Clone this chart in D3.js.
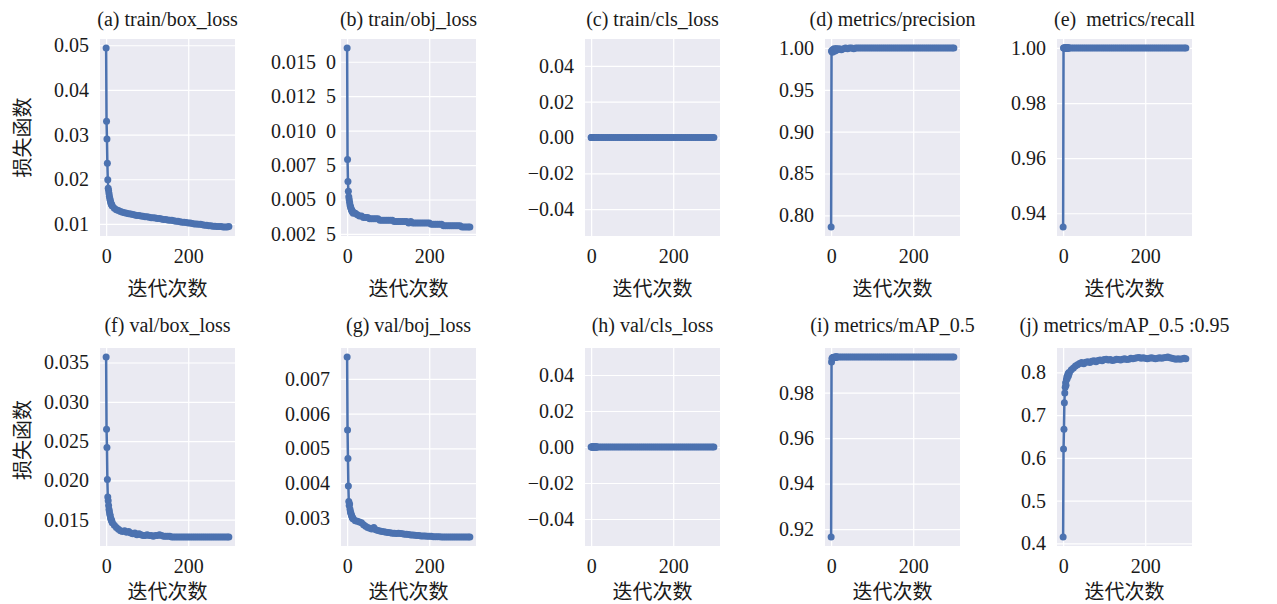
<!DOCTYPE html>
<html>
<head>
<meta charset="utf-8">
<script src="https://cdn.jsdelivr.net/npm/d3@7"></script>
<style>
  body { margin: 0; background: #fff; }
  text { font-family: "Liberation Serif", "Noto Sans CJK SC", serif; fill: #1a1a1a; }
</style>
</head>
<body>
<svg id="drawing_region"></svg>
<script>
const epochs = [0, 1, 2, 3, 4, 5, 6, 7, 8, 9, 10, 11, 12, 13, 14, 15,
    20, 25, 30, 35, 40, 45, 50, 55, 60, 65, 70, 75, 80, 85, 90, 95,
    100, 105, 110, 115, 120, 125, 130, 135, 140, 145, 150, 155, 160, 165, 170, 175,
    180, 185, 190, 195, 200, 205, 210, 215, 220, 225, 230, 235, 240, 245, 250, 255,
    260, 265, 270, 275, 280, 285, 290, 295, 299];

const titles = ["(a) train/box_loss", "(b) train/obj_loss", "(c) train/cls_loss",
    "(d) metrics/precision", "(e)  metrics/recall", "(f) val/box_loss",
    "(g) val/boj_loss", "(h) val/cls_loss", "(i) metrics/mAP_0.5",
    "(j) metrics/mAP_0.5 :0.95"];

const trainBoxLoss = [0.0494, 0.0330, 0.0290, 0.0236, 0.0199, 0.0180, 0.0175, 0.0168, 0.0162, 0.0157, 0.0153, 0.0149, 0.0146, 0.0144, 0.0142, 0.0140,
    0.0135, 0.0132, 0.0130, 0.0128, 0.0126, 0.0125, 0.0124, 0.0123, 0.0122, 0.0121, 0.0120, 0.0119, 0.0119, 0.0118, 0.0117, 0.0116,
    0.0116, 0.0115, 0.0114, 0.0114, 0.0113, 0.0112, 0.0112, 0.0111, 0.0110, 0.0110, 0.0109, 0.0108, 0.0108, 0.0107, 0.0106, 0.0106,
    0.0105, 0.0104, 0.0104, 0.0103, 0.0102, 0.0102, 0.0101, 0.0100, 0.0100, 0.0099, 0.0099, 0.0098, 0.0097, 0.0097, 0.0096, 0.0096,
    0.0095, 0.0095, 0.0094, 0.0094, 0.0094, 0.0093, 0.0093, 0.0093, 0.0094];

const trainObjLoss = [0.0160, 0.0079, 0.0063, 0.0056, 0.0052, 0.0050, 0.0048, 0.0046, 0.0045, 0.0044, 0.0043, 0.0042, 0.0042, 0.0041, 0.0041, 0.0040,
    0.0040, 0.0039, 0.0038, 0.0038, 0.0037, 0.0037, 0.0037, 0.0036, 0.0036, 0.0036, 0.0036, 0.0036, 0.0035, 0.0035, 0.0035, 0.0035,
    0.0035, 0.0035, 0.0035, 0.0034, 0.0034, 0.0034, 0.0034, 0.0034, 0.0034, 0.0034, 0.0033, 0.0034, 0.0033, 0.0033, 0.0033, 0.0033,
    0.0033, 0.0033, 0.0033, 0.0033, 0.0033, 0.0032, 0.0032, 0.0032, 0.0032, 0.0032, 0.0032, 0.0031, 0.0031, 0.0031, 0.0031, 0.0031,
    0.0031, 0.0031, 0.0031, 0.0031, 0.0030, 0.0030, 0.0030, 0.0030, 0.0030];

const trainClsLoss = [0, 0, 0, 0, 0, 0, 0, 0, 0, 0, 0, 0, 0, 0, 0, 0,
    0, 0, 0, 0, 0, 0, 0, 0, 0, 0, 0, 0, 0, 0, 0, 0,
    0, 0, 0, 0, 0, 0, 0, 0, 0, 0, 0, 0, 0, 0, 0, 0,
    0, 0, 0, 0, 0, 0, 0, 0, 0, 0, 0, 0, 0, 0, 0, 0,
    0, 0, 0, 0, 0, 0, 0, 0, 0];

const precision = [0.786, 0.996, 0.997, 0.995, 0.998, 0.996, 0.997, 0.999, 0.996, 0.997, 0.998, 0.997, 0.999, 0.998, 0.999, 0.998,
    0.999, 0.998, 0.999, 1.000, 0.999, 1.000, 1.000, 0.999, 1.000, 1.000, 1.000, 1.000, 1.000, 1.000, 1.000, 1.000,
    1.000, 1.000, 1.000, 1.000, 1.000, 1.000, 1.000, 1.000, 1.000, 1.000, 1.000, 1.000, 1.000, 1.000, 1.000, 1.000,
    1.000, 1.000, 1.000, 1.000, 1.000, 1.000, 1.000, 1.000, 1.000, 1.000, 1.000, 1.000, 1.000, 1.000, 1.000, 1.000,
    1.000, 1.000, 1.000, 1.000, 1.000, 1.000, 1.000, 1.000, 1.000];

const recall = [0.935, 1.000, 1.000, 1.000, 1.000, 1.000, 1.000, 1.000, 1.000, 1.000, 1.000, 1.000, 1.000, 1.000, 1.000, 1.000,
    1.000, 1.000, 1.000, 1.000, 1.000, 1.000, 1.000, 1.000, 1.000, 1.000, 1.000, 1.000, 1.000, 1.000, 1.000, 1.000,
    1.000, 1.000, 1.000, 1.000, 1.000, 1.000, 1.000, 1.000, 1.000, 1.000, 1.000, 1.000, 1.000, 1.000, 1.000, 1.000,
    1.000, 1.000, 1.000, 1.000, 1.000, 1.000, 1.000, 1.000, 1.000, 1.000, 1.000, 1.000, 1.000, 1.000, 1.000, 1.000,
    1.000, 1.000, 1.000, 1.000, 1.000, 1.000, 1.000, 1.000, 1.000];

const valBoxLoss = [0.0357, 0.0265, 0.0242, 0.0201, 0.0179, 0.0174, 0.0168, 0.0163, 0.0160, 0.0157, 0.0155, 0.0152, 0.0151, 0.0149, 0.0148, 0.0146,
    0.0143, 0.0140, 0.0138, 0.0136, 0.0135, 0.0136, 0.0134, 0.0135, 0.0133, 0.0132, 0.0133, 0.0131, 0.0132, 0.0131, 0.0130, 0.0130,
    0.0131, 0.0130, 0.0130, 0.0129, 0.0130, 0.0130, 0.0131, 0.0130, 0.0129, 0.0129, 0.0129, 0.0129, 0.0128, 0.0128, 0.0128, 0.0128,
    0.0128, 0.0128, 0.0128, 0.0128, 0.0128, 0.0128, 0.0128, 0.0128, 0.0128, 0.0128, 0.0128, 0.0128, 0.0128, 0.0128, 0.0128, 0.0128,
    0.0128, 0.0128, 0.0128, 0.0128, 0.0128, 0.0128, 0.0128, 0.0128, 0.0128];

const valObjLoss = [0.00763, 0.00553, 0.00471, 0.00392, 0.00347, 0.00336, 0.00340, 0.00325, 0.00318, 0.00314, 0.00310, 0.00306, 0.00303, 0.00300, 0.00299, 0.00297,
    0.00292, 0.00290, 0.00288, 0.00286, 0.00280, 0.00276, 0.00272, 0.00270, 0.00268, 0.00272, 0.00266, 0.00264, 0.00262, 0.00261, 0.00260, 0.00259,
    0.00258, 0.00257, 0.00256, 0.00256, 0.00255, 0.00256, 0.00255, 0.00254, 0.00253, 0.00253, 0.00252, 0.00251, 0.00251, 0.00250, 0.00249, 0.00249,
    0.00248, 0.00248, 0.00248, 0.00247, 0.00247, 0.00247, 0.00246, 0.00246, 0.00246, 0.00246, 0.00245, 0.00245, 0.00245, 0.00245, 0.00245, 0.00245,
    0.00245, 0.00245, 0.00245, 0.00245, 0.00245, 0.00245, 0.00245, 0.00245, 0.00245];

const valClsLoss = [0, 0, 0, 0, 0, 0, 0, 0, 0, 0, 0, 0, 0, 0, 0, 0,
    0, 0, 0, 0, 0, 0, 0, 0, 0, 0, 0, 0, 0, 0, 0, 0,
    0, 0, 0, 0, 0, 0, 0, 0, 0, 0, 0, 0, 0, 0, 0, 0,
    0, 0, 0, 0, 0, 0, 0, 0, 0, 0, 0, 0, 0, 0, 0, 0,
    0, 0, 0, 0, 0, 0, 0, 0, 0];

const mAP50 = [0.9165, 0.9935, 0.9950, 0.9953, 0.9955, 0.9954, 0.9956, 0.9955, 0.9956, 0.9956, 0.9957, 0.9956, 0.9957, 0.9957, 0.9957, 0.9957,
    0.9957, 0.9957, 0.9957, 0.9957, 0.9957, 0.9957, 0.9957, 0.9957, 0.9957, 0.9957, 0.9957, 0.9957, 0.9957, 0.9957, 0.9957, 0.9957,
    0.9957, 0.9957, 0.9957, 0.9957, 0.9957, 0.9957, 0.9957, 0.9957, 0.9957, 0.9957, 0.9957, 0.9957, 0.9957, 0.9957, 0.9957, 0.9957,
    0.9957, 0.9957, 0.9957, 0.9957, 0.9957, 0.9957, 0.9957, 0.9957, 0.9957, 0.9957, 0.9957, 0.9957, 0.9957, 0.9957, 0.9957, 0.9957,
    0.9957, 0.9957, 0.9957, 0.9957, 0.9957, 0.9957, 0.9957, 0.9957, 0.9957];

const mAP5095 = [0.415, 0.621, 0.667, 0.729, 0.752, 0.765, 0.776, 0.770, 0.783, 0.789, 0.786, 0.793, 0.797, 0.792, 0.800, 0.798,
    0.806, 0.810, 0.815, 0.818, 0.821, 0.823, 0.820, 0.824, 0.825, 0.823, 0.826, 0.827, 0.825, 0.828, 0.829, 0.827,
    0.830, 0.831, 0.829, 0.830, 0.828, 0.829, 0.831, 0.830, 0.829, 0.831, 0.832, 0.830, 0.831, 0.833, 0.832, 0.833,
    0.834, 0.835, 0.833, 0.834, 0.833, 0.832, 0.833, 0.834, 0.833, 0.832, 0.833, 0.834, 0.833, 0.834, 0.835, 0.836,
    0.834, 0.833, 0.832, 0.831, 0.832, 0.831, 0.832, 0.833, 0.832];

// y tick values for each panel, and label text where it is not plain
const yTicks = [
    [0.01, 0.02, 0.03, 0.04, 0.05],
    [0.0025, 0.005, 0.0075, 0.01, 0.0125, 0.015],
    [-0.04, -0.02, 0, 0.02, 0.04],
    [0.80, 0.85, 0.90, 0.95, 1.00],
    [0.94, 0.96, 0.98, 1.00],
    [0.015, 0.020, 0.025, 0.030, 0.035],
    [0.003, 0.004, 0.005, 0.006, 0.007],
    [-0.04, -0.02, 0, 0.02, 0.04],
    [0.92, 0.94, 0.96, 0.98],
    [0.4, 0.5, 0.6, 0.7, 0.8]
];
const yDecimals = [2, 4, 2, 2, 2, 3, 3, 2, 2, 1];
const objTickLabels = ["0.002\u20025", "0.005\u20020", "0.007\u20025", "0.010\u20020", "0.012\u20025", "0.015\u20020"];
const xTicks = [0, 200];
const xLabel = "迭代次数";
const yLabel = "损失函数";

const series = [trainBoxLoss, trainObjLoss, trainClsLoss, precision, recall,
    valBoxLoss, valObjLoss, valClsLoss, mAP50, mAP5095];

// layout
const colLeft = [100, 341, 585, 825, 1057];
const rowTop = [39, 348];
const rowHeight = [197, 198];
const plotWidth = 135;
const titleBase = [26, 332];
const xLabelBase = [296, 599];
const yLabelMid = [137.5, 440];

const svg = d3.select("#drawing_region")
    .attr("width", 1277)
    .attr("height", 604);

class SubPlot {
    constructor(config, data) {
        this.config = config;
        this.data = data;
        this.init();
    }

    init() {
        const self = this;
        const c = self.config;

        self.chart = svg.append("g")
            .attr("transform", `translate(${c.left}, ${c.top})`);

        const [x0, x1] = d3.extent(self.data, d => d.x);
        const mx = (x1 - x0) * 0.05;
        self.xScale = d3.scaleLinear()
            .domain([x0 - mx, x1 + mx])
            .range([0, c.width]);

        let [y0, y1] = d3.extent(self.data, d => d.y);
        if (y0 === y1) {
            y0 -= 0.05; y1 += 0.05;
        }
        const my = (y1 - y0) * 0.05;
        self.yScale = d3.scaleLinear()
            .domain([y0 - my, y1 + my])
            .range([c.height, 0]);

        self.line = d3.line()
            .x(d => self.xScale(d.x))
            .y(d => self.yScale(d.y));
    }

    render() {
        const self = this;
        const c = self.config;

        self.chart.append("rect")
            .attr("width", c.width)
            .attr("height", c.height)
            .attr("fill", "#eaeaf2");

        // grid
        self.chart.append("g")
            .call(d3.axisLeft(self.yScale).tickValues(c.yTicks).tickSize(-c.width).tickFormat(""))
            .call(g => g.select(".domain").remove())
            .call(g => g.selectAll("line").attr("stroke", "#fff").attr("stroke-width", 1.2));

        self.chart.append("g")
            .attr("transform", `translate(0, ${c.height})`)
            .call(d3.axisBottom(self.xScale).tickValues(xTicks).tickSize(-c.height).tickFormat(""))
            .call(g => g.select(".domain").remove())
            .call(g => g.selectAll("line").attr("stroke", "#fff").attr("stroke-width", 1.2));

        // tick labels
        self.chart.append("g")
            .call(d3.axisLeft(self.yScale).tickValues(c.yTicks).tickSize(0).tickPadding(c.pad)
                .tickFormat((d, i) => c.yLabels ? c.yLabels[i] : d3.format(`.${c.dec}f`)(d).replace("-", "\u2212")))
            .call(g => g.select(".domain").remove())
            .call(g => g.selectAll("text").attr("font-size", 20).attr("font-family", null).attr("fill", "#1a1a1a"));

        self.chart.append("g")
            .attr("transform", `translate(0, ${c.height})`)
            .call(d3.axisBottom(self.xScale).tickValues(xTicks).tickSize(0).tickPadding(13))
            .call(g => g.select(".domain").remove())
            .call(g => g.selectAll("text").attr("font-size", 20).attr("font-family", null).attr("fill", "#1a1a1a"));

        // series
        self.chart.append("path")
            .datum(self.data)
            .attr("d", self.line)
            .attr("fill", "none")
            .attr("stroke", "#4c72b0")
            .attr("stroke-width", 2.5);

        self.chart.selectAll("circle")
            .data(self.data)
            .enter()
            .append("circle")
            .attr("cx", d => self.xScale(d.x))
            .attr("cy", d => self.yScale(d.y))
            .attr("r", 3.5)
            .attr("fill", "#4c72b0");

        // labels
        svg.append("text")
            .attr("x", c.left + c.width / 2)
            .attr("y", c.titleY)
            .attr("text-anchor", "middle")
            .attr("font-size", 20)
            .style("white-space", "pre")
            .text(c.title);

        svg.append("text")
            .attr("x", c.left + c.width / 2)
            .attr("y", c.xLabelY)
            .attr("text-anchor", "middle")
            .attr("font-size", 20)
            .text(xLabel);

        if (c.showYLabel) {
            svg.append("text")
                .attr("transform", `translate(30, ${c.yLabelY}) rotate(-90)`)
                .attr("text-anchor", "middle")
                .attr("font-size", 20)
                .text(yLabel);
        }
    }
}

series.forEach((values, i) => {
    const row = Math.floor(i / 5);
    const col = i % 5;
    const data = epochs.map((e, j) => ({ x: e, y: values[j] }));
    const config = {
        left: colLeft[col],
        top: rowTop[row],
        width: plotWidth,
        height: rowHeight[row],
        title: titles[i],
        titleY: titleBase[row],
        xLabelY: xLabelBase[row],
        yLabelY: yLabelMid[row],
        showYLabel: col === 0,
        yTicks: yTicks[i],
        dec: yDecimals[i],
        yLabels: i === 1 ? objTickLabels : null,
        pad: i === 1 ? 5 : 11
    };
    const plot = new SubPlot(config, data);
    plot.render();
});
</script>
</body>
</html>
